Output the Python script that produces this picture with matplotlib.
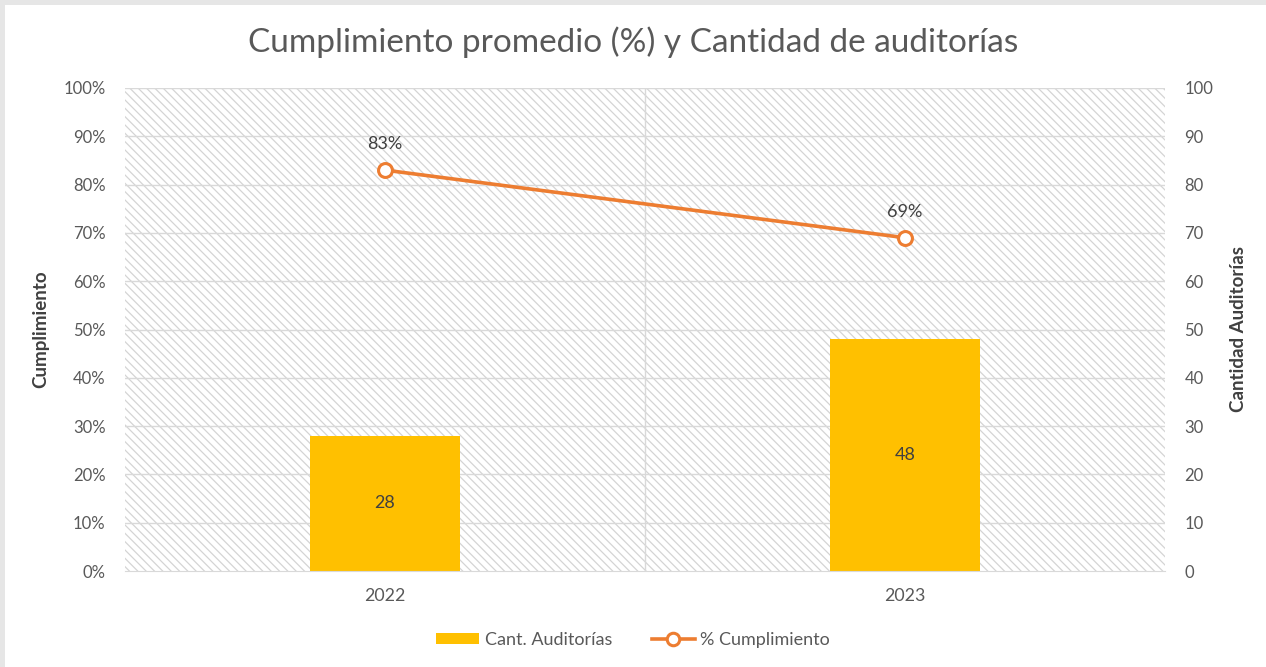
import numpy as np
import matplotlib.pyplot as plt
from matplotlib.patches import Rectangle, Patch
from matplotlib.lines import Line2D

# chart data
years = ['2022', '2023']
cant_auditorias = [28, 48]
cumplimiento = [83, 69]  # percent

title = 'Cumplimiento promedio (%) y Cantidad de auditorías'
bar_color = '#FFC000'
line_color = '#ED7D31'
text_color = '#595959'
grid_color = '#d9d9d9'

plt.rcParams['font.family'] = ['Lato', 'DejaVu Sans']
plt.rcParams['hatch.color'] = '#d4d4d4'
plt.rcParams['hatch.linewidth'] = 0.9

fig = plt.figure(figsize=(12.66, 6.67), dpi=100)
fig.patch.set_facecolor('#e6e6e6')
# white card inside the light gray frame
fig.patches.append(Rectangle((5 / 1266, 0), 1, 1 - 5 / 667, transform=fig.transFigure,
                             facecolor='white', edgecolor='none', zorder=-10))

ax = fig.add_axes([125 / 1266, 1 - 571 / 667, 1040 / 1266, 483 / 667])
ax2 = ax.twinx()
ax.set_zorder(2)
ax2.set_zorder(1)
ax.patch.set_visible(False)

x = np.arange(len(years))

# hatched plot area background
ax2.add_patch(Rectangle((0, 0), 1, 1, transform=ax2.transAxes, facecolor='white',
                        edgecolor='#d4d4d4', linewidth=0, hatch='\\\\\\\\', zorder=0))
for v in range(10, 101, 10):
    ax2.axhline(v, color=grid_color, lw=1, zorder=1)
ax2.axvline(0.5, color=grid_color, lw=1, zorder=1)

# bars on secondary axis
ax2.bar(x, cant_auditorias, width=0.29, color=bar_color, zorder=2)
for xi, v in zip(x, cant_auditorias):
    ax2.text(xi, v / 2, str(v), ha='center', va='center', fontsize=13, color='#404040')

# line on primary axis
ax.plot(x, cumplimiento, color=line_color, lw=2.6, marker='o', markersize=10,
        markerfacecolor='white', markeredgecolor=line_color, markeredgewidth=2.2, zorder=3)
for xi, v in zip(x, cumplimiento):
    ax.annotate('%d%%' % v, (xi, v), xytext=(0, 13), textcoords='offset points',
                ha='center', va='bottom', fontsize=13, color='#404040')

ax.set_xlim(-0.5, 1.5)
ax.set_ylim(0, 100)
ax2.set_ylim(0, 100)
ax.set_yticks(range(0, 101, 10))
ax.set_yticklabels(['%d%%' % v for v in range(0, 101, 10)])
ax2.set_yticks(range(0, 101, 10))
ax.set_xticks(x)
ax.set_xticklabels(years)

for a in (ax, ax2):
    for s in a.spines.values():
        s.set_visible(False)
    a.tick_params(length=0, colors=text_color, labelsize=12)
ax.spines['bottom'].set_visible(True)
ax.spines['bottom'].set_color(grid_color)
ax.tick_params(axis='y', pad=14)
ax2.tick_params(axis='y', pad=14)
ax.tick_params(axis='x', pad=12, labelsize=12.8)

ax.set_ylabel('Cumplimiento', fontsize=13.5, fontweight='bold', color='#404040', labelpad=10)
ax2.set_ylabel('Cantidad Auditorías', fontsize=13.5, fontweight='bold', color='#404040', labelpad=12)

fig.text(0.5, 1 - 42 / 667, title, ha='center', va='center', fontsize=24, color=text_color)

handles = [Patch(facecolor=bar_color, edgecolor='none'),
           Line2D([], [], color=line_color, lw=2.6, marker='o', markersize=9,
                  markerfacecolor='white', markeredgecolor=line_color, markeredgewidth=2.2)]
fig.legend(handles, ['Cant. Auditorías', '% Cumplimiento'], loc='center',
           bbox_to_anchor=(0.5, 1 - 640 / 667), ncol=2, frameon=False, fontsize=13,
           labelcolor=text_color, handlelength=2.4, handleheight=0.6, columnspacing=2.2,
           handletextpad=0.3)

fig.savefig('out.png', dpi=100, facecolor=fig.get_facecolor())
